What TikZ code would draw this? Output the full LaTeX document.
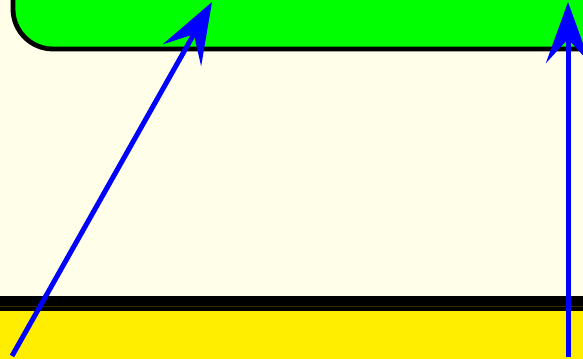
\documentclass[tikz,border=0pt]{standalone}
\usepackage{tikz}
\usetikzlibrary{arrows.meta, positioning}

\definecolor{paper}{RGB}{255,254,232}
\definecolor{lime}{RGB}{0,255,0}
\definecolor{sun}{RGB}{255,238,0}
\definecolor{pureblue}{RGB}{0,0,255}

\begin{document}
\begin{tikzpicture}[x=0.75pt, y=-0.75pt,
  panel/.style={draw=black, fill=lime, line width=3.6pt, rounded corners=30pt, outer sep=0pt, inner sep=0pt},
  arrow/.style={draw=pureblue, line width=3.75pt, -{Stealth[length=45.75pt, width=33pt, inset=18pt]}}]
\useasboundingbox (0,0) rectangle (583,359);
\clip (0,0) rectangle (583,359);
\fill[paper] (0,0) rectangle (583,359);

\node[panel, anchor=south west, minimum width=525pt, minimum height=90pt] (top) at (13,49) {};

\fill[sun] (0,311) rectangle (583,359);
\fill[black] (0,296) rectangle (583,306);
\fill[black!80!sun] (0,306) rectangle (583,307);
\fill[black] (0,307) rectangle (583,311);

\coordinate (leftfoot) at (12,356);
\coordinate (rightfoot) at (568,357);
\coordinate (lefttip) at (212,2);
\coordinate (righttip) at (568,2);

\draw[arrow] (leftfoot) -- (lefttip);
\draw[arrow] (rightfoot) -- (righttip);
\end{tikzpicture}
\end{document}
